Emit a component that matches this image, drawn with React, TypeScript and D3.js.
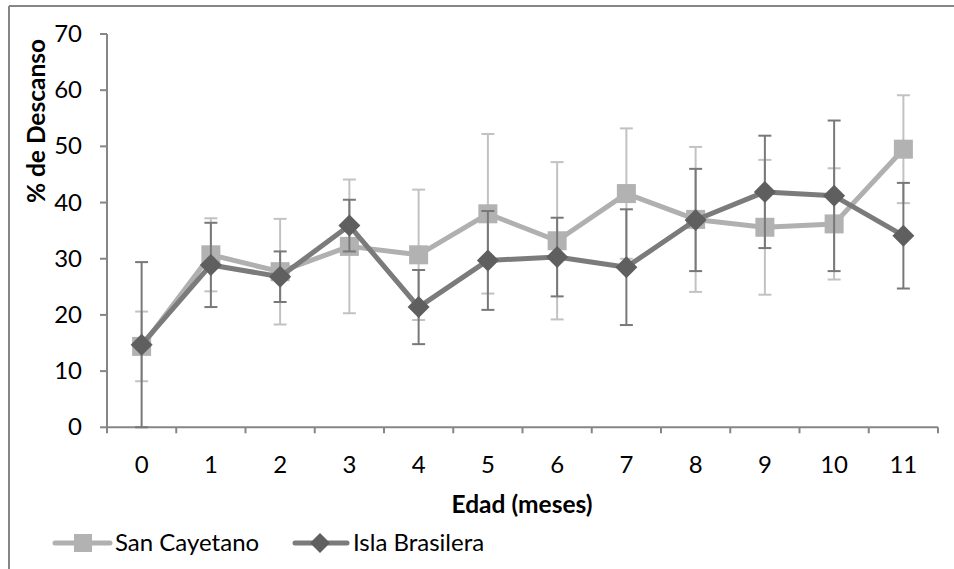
import React from "react";
import * as d3 from "d3";

const months = [0, 1, 2, 3, 4, 5, 6, 7, 8, 9, 10, 11];
const sanCayetano = [14.4, 30.7, 27.7, 32.2, 30.7, 38.0, 33.2, 41.6, 37.0, 35.6, 36.2, 49.5];
const sanCayetanoErr = [6.2, 6.5, 9.4, 11.9, 11.6, 14.2, 14.0, 11.6, 12.9, 12.0, 9.9, 9.6];
const islaBrasilera = [14.7, 28.9, 26.8, 35.9, 21.4, 29.7, 30.3, 28.5, 36.9, 41.9, 41.2, 34.1];
const islaBrasileraErr = [14.7, 7.5, 4.5, 4.6, 6.6, 8.8, 7.0, 10.3, 9.1, 10.0, 13.4, 9.4];
const yTicks = [0, 10, 20, 30, 40, 50, 60, 70];
const seriesNames = ["San Cayetano", "Isla Brasilera"];
const xTitle = "Edad (meses)";
const yTitle = "% de Descanso";

const W = 954;
const H = 569;
const FONT = "Lato, 'Open Sans', sans-serif";
const AXIS = "#868686";

const lightLine = "#b0b0b0";
const lightMarker = "#b2b2b2";
const lightErr = "#c2c2c2";
const darkLine = "#7b7b7b";
const darkMarker = "#5f5f5f";
const darkErr = "#787878";

export default function App() {
  const x = d3.scaleBand<number>().domain(months).range([107, 938]).paddingInner(0).paddingOuter(0);
  const y = d3.scaleLinear().domain([0, 70]).range([427.3, 34]);
  const cx = (m: number) => (x(m) as number) + x.bandwidth() / 2;

  const line = d3
    .line<number>()
    .x((_, i) => cx(months[i]))
    .y((d) => y(d));

  const boundaries = [...months.map((m) => x(m) as number), 938];

  const capHalf = 6.5;
  const errBars = (vals: number[], errs: number[], color: string) =>
    vals.map((v, i) => {
      const xc = cx(months[i]);
      const top = y(v + errs[i]);
      const bot = y(Math.max(0, v - errs[i]));
      return (
        <g key={i} stroke={color} strokeWidth={2}>
          <line x1={xc} x2={xc} y1={top} y2={bot} />
          <line x1={xc - capHalf} x2={xc + capHalf} y1={top} y2={top} />
          <line x1={xc - capHalf} x2={xc + capHalf} y1={bot} y2={bot} />
        </g>
      );
    });

  const sq = 19;
  const dia = 11;
  const diamond = (xc: number, yc: number) =>
    `M${xc},${yc - dia}L${xc + dia},${yc}L${xc},${yc + dia}L${xc - dia},${yc}Z`;

  return (
    <svg
      width={W}
      height={H}
      style={{ position: "absolute", left: 0, top: 0, background: "#fff" }}
      fontFamily={FONT}
    >
      <rect x={0} y={0} width={W} height={H} fill="#fff" />
      {/* outer border (cropped) */}
      <line x1={9} x2={W} y1={6} y2={6} stroke={AXIS} strokeWidth={2} />
      <line x1={9} x2={9} y1={6} y2={H} stroke={AXIS} strokeWidth={2} />

      {/* axes */}
      <line x1={107} x2={107} y1={y(70)} y2={y(0)} stroke={AXIS} strokeWidth={2} />
      <line x1={107} x2={938} y1={y(0)} y2={y(0)} stroke={AXIS} strokeWidth={2} />
      {yTicks.map((t) => (
        <g key={t}>
          <line x1={100} x2={107} y1={y(t)} y2={y(t)} stroke={AXIS} strokeWidth={2} />
          <text x={82} y={y(t) + 8} textAnchor="end" fontSize={24} fill="#000">
            {t}
          </text>
        </g>
      ))}
      {boundaries.map((b, i) => (
        <line key={i} x1={b} x2={b} y1={y(0)} y2={y(0) + 6} stroke={AXIS} strokeWidth={2} />
      ))}
      {months.map((m) => (
        <text key={m} x={cx(m)} y={473} textAnchor="middle" fontSize={24} fill="#000">
          {m}
        </text>
      ))}
      <text x={522} y={513} textAnchor="middle" fontSize={24.5} fontWeight="bold" fill="#000">
        {xTitle}
      </text>
      <text
        transform="translate(45,121) rotate(-90)"
        textAnchor="middle"
        fontSize={24.5}
        fontWeight="bold"
        fill="#000"
      >
        {yTitle}
      </text>

      {/* San Cayetano */}
      {errBars(sanCayetano, sanCayetanoErr, lightErr)}
      <path d={line(sanCayetano) || ""} fill="none" stroke={lightLine} strokeWidth={5} strokeLinejoin="round" />
      {sanCayetano.map((v, i) => (
        <rect key={i} x={cx(months[i]) - sq / 2} y={y(v) - sq / 2} width={sq} height={sq} fill={lightMarker} />
      ))}

      {/* Isla Brasilera */}
      {errBars(islaBrasilera, islaBrasileraErr, darkErr)}
      <path d={line(islaBrasilera) || ""} fill="none" stroke={darkLine} strokeWidth={5} strokeLinejoin="round" />
      {islaBrasilera.map((v, i) => (
        <path key={i} d={diamond(cx(months[i]), y(v))} fill={darkMarker} />
      ))}

      {/* legend */}
      <line x1={55} x2={110} y1={543} y2={543} stroke={lightLine} strokeWidth={5} strokeLinecap="round" />
      <rect x={83 - 9} y={543 - 9} width={18} height={18} fill={lightMarker} />
      <text x={115} y={551} fontSize={24} fill="#000">
        {seriesNames[0]}
      </text>
      <line x1={295} x2={347} y1={543} y2={543} stroke={darkLine} strokeWidth={5} strokeLinecap="round" />
      <path d={`M320,533L330,543L320,553L310,543Z`} fill={darkMarker} />
      <text x={353} y={551} fontSize={24} fill="#000">
        {seriesNames[1]}
      </text>
    </svg>
  );
}
